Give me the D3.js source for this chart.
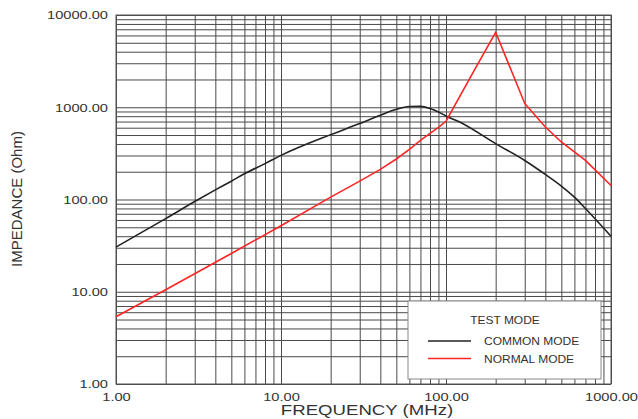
<!DOCTYPE html>
<html>
<head>
<meta charset="utf-8">
<script src="https://cdn.jsdelivr.net/npm/d3@7"></script>
<style>
  html, body { margin: 0; padding: 0; background: #fff; }
  svg { display: block; font-family: "Liberation Sans", Arial, sans-serif; }
</style>
</head>
<body>
<svg id="chart" width="638" height="419"></svg>
<script>
// ---- data ----
const commonFreq = [1, 2, 3, 4, 5, 6, 8, 10, 20, 30, 40, 50, 60, 70, 80, 90, 100, 121, 200, 300, 400, 500, 600, 700, 1000];
const commonZ    = [30.5, 62, 95, 127, 158, 190, 245, 301, 505, 665, 819, 951, 1018, 1023, 968, 889, 804, 692, 403, 265, 187, 140, 106, 80, 40];
const normalFreq = [1, 2, 5, 10, 20, 30, 40, 50, 60, 70, 80, 90, 100, 150, 200, 300, 400, 500, 700, 1000];
const normalZ    = [5.35, 10.5, 26, 52, 106, 158, 212, 275, 350, 438, 520, 605, 705, 2600, 6500, 1100, 611, 420, 265, 142];
const xTickValues = [1, 10, 100, 1000];
const yTickValues = [1, 10, 100, 1000, 10000];
const seriesNames = ["COMMON MODE", "NORMAL MODE"];
const seriesColors = ["#222222", "#ff2424"];
const legendTitle = "TEST MODE";
const xTitle = "FREQUENCY (MHz)";
const yTitle = "IMPEDANCE (Ohm)";

// ---- layout ----
const L = 116, R = 611, T = 15, B = 384;
const svg = d3.select("#chart");
const x = d3.scaleLog().domain([1, 1000]).range([L, R]);
const y = d3.scaleLog().domain([1, 10000]).range([B, T]);

function minorGrid(maxDecade) {
  const out = [];
  for (let d = 1; d < maxDecade; d *= 10) for (let k = 1; k <= 9; k++) out.push(k * d);
  out.push(maxDecade);
  return out;
}

// grid
svg.append("g").attr("transform", `translate(0,${B})`)
  .call(d3.axisBottom(x).tickValues(minorGrid(1000)).tickSize(-(B - T)).tickFormat(""))
  .call(g => g.select(".domain").remove())
  .call(g => g.selectAll("line").attr("stroke", "#4a4a4a").attr("stroke-width", 1));
svg.append("g").attr("transform", `translate(${L},0)`)
  .call(d3.axisLeft(y).tickValues(minorGrid(10000)).tickSize(-(R - L)).tickFormat(""))
  .call(g => g.select(".domain").remove())
  .call(g => g.selectAll("line").attr("stroke", "#4a4a4a").attr("stroke-width", 1));

// frame
svg.append("rect").attr("x", L).attr("y", T).attr("width", R - L).attr("height", B - T)
  .attr("fill", "none").attr("stroke", "#555").attr("stroke-width", 1);

// tick labels
svg.append("g").attr("transform", `translate(${L},0)`)
  .call(d3.axisLeft(y).tickValues(yTickValues).tickSize(0).tickFormat(d3.format(".2f")))
  .call(g => g.select(".domain").remove())
  .call(g => g.selectAll("text")
    .attr("x", 0).attr("dy", null).attr("dominant-baseline", "middle")
    .attr("transform", "translate(-8,1) scale(1.33,1)")
    .attr("font-size", 11).attr("fill", "#333").attr("font-family", "Liberation Sans, Arial, sans-serif"));
svg.append("g").attr("transform", `translate(0,${B})`)
  .call(d3.axisBottom(x).tickValues(xTickValues).tickSize(0).tickFormat(d3.format(".2f")))
  .call(g => g.select(".domain").remove())
  .call(g => g.selectAll("text")
    .attr("y", 0).attr("dy", null)
    .attr("transform", "translate(0,17) scale(1.33,1)")
    .attr("font-size", 11).attr("fill", "#333").attr("font-family", "Liberation Sans, Arial, sans-serif"));

// axis titles
svg.append("text").attr("transform", "translate(367,415) scale(1.33,1)")
  .attr("text-anchor", "middle").attr("font-size", 14).attr("fill", "#333").text(xTitle);
svg.append("text").attr("transform", "translate(21.5,199) rotate(-90)")
  .attr("text-anchor", "middle").attr("font-size", 15).attr("fill", "#333").text(yTitle);

// curves
svg.append("path").datum(d3.zip(commonFreq, commonZ))
  .attr("d", d3.line().x(d => x(d[0])).y(d => y(d[1])).curve(d3.curveMonotoneX)).attr("fill", "none")
  .attr("stroke", seriesColors[0]).attr("stroke-width", 1.6);
svg.append("path").datum(d3.zip(normalFreq, normalZ))
  .attr("d", d3.line().x(d => x(d[0])).y(d => y(d[1])).curve(d3.curveLinear)).attr("fill", "none")
  .attr("stroke", seriesColors[1]).attr("stroke-width", 1.6);

// legend
const lg = svg.append("g");
lg.append("rect").attr("x", 408).attr("y", 301).attr("width", 193).attr("height", 78)
  .attr("fill", "#fff").attr("stroke", "#888").attr("stroke-width", 1);
lg.append("text").attr("transform", "translate(505,324) scale(1.2,1)")
  .attr("text-anchor", "middle").attr("font-size", 10).attr("fill", "#333").text(legendTitle);
seriesNames.forEach((name, i) => {
  const yy = 341 + i * 17.5;
  lg.append("line").attr("x1", 428).attr("x2", 471).attr("y1", yy).attr("y2", yy)
    .attr("stroke", seriesColors[i]).attr("stroke-width", 1.6);
  lg.append("text").attr("transform", `translate(484,${yy + 4}) scale(1.2,1)`)
    .attr("font-size", 10).attr("fill", "#333").text(name);
});
</script>
</body>
</html>
